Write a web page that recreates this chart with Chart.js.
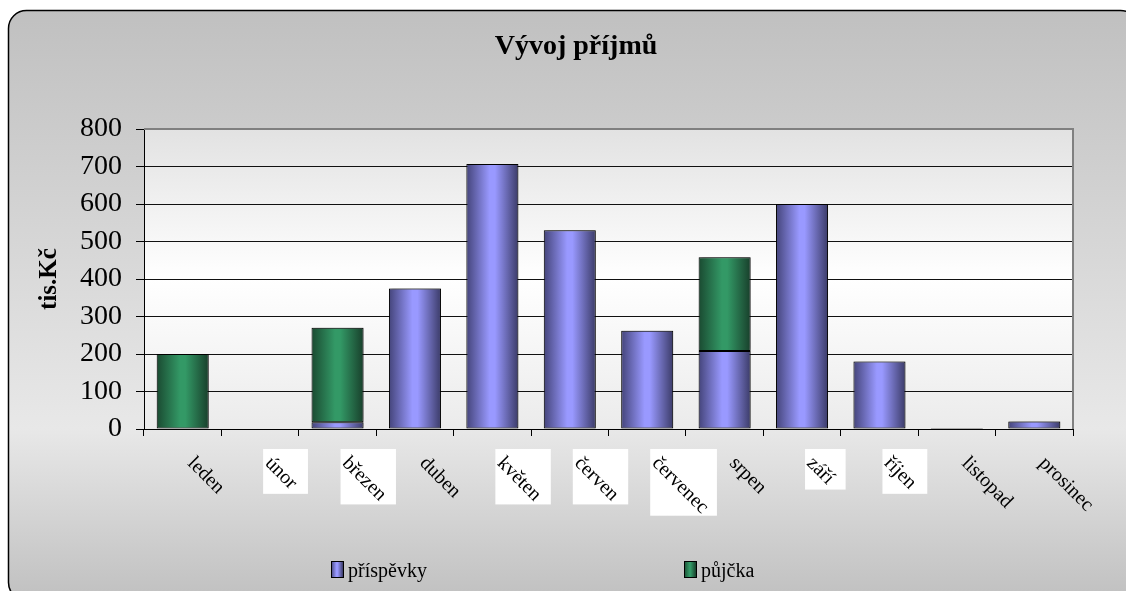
<!DOCTYPE html>
<html>
<head>
<meta charset="utf-8">
<script src="https://cdn.jsdelivr.net/npm/chart.js@4.4.0/dist/chart.umd.min.js"></script>
<style>
  body { margin: 0; background: #fff; }
  canvas { display: block; }
</style>
</head>
<body>
<canvas id="incomeChart" width="1126" height="591"></canvas>
<script>
// data (tis. Kč)
const months = ["leden", "únor", "březen", "duben", "květen", "červen",
  "červenec", "srpen", "září", "říjen", "listopad", "prosinec"];
const prispevky = [null, null, 18, 375, 707, 530, 262, 208, 600, 180, 3, 20];
const pujcka = [200, null, 252, null, null, null, null, 250, null, null, null, null];
const yTicks = [0, 100, 200, 300, 400, 500, 600, 700, 800];
const chartTitle = "Vývoj příjmů";

// labels that sit on a white patch in the original
const boxedLabels = [false, true, true, false, true, true, true, false, true, true, false, false];

const serif = '"Liberation Serif", "Times New Roman", serif';
const BAR_PCT = 0.672;

const blueStops = [[0, "#44447a"], [0.45, "#9999ff"], [0.55, "#9999ff"], [1, "#3b3b68"]];
const greenStops = [[0, "#1a4a31"], [0.45, "#339966"], [0.55, "#339966"], [1, "#183f2b"]];

function barGradient(stops) {
  return function (c) {
    const chart = c.chart;
    const xs = chart.scales.x;
    if (!xs || !chart.chartArea || c.type !== "data") return stops[1][1];
    const cx = xs.getPixelForValue(c.dataIndex);
    const half = (xs.width / months.length) * BAR_PCT / 2;
    const g = chart.ctx.createLinearGradient(cx - half, 0, cx + half, 0);
    stops.forEach(s => g.addColorStop(s[0], s[1]));
    return g;
  };
}

function legendGradient(ctx, x, w, stops) {
  const g = ctx.createLinearGradient(x, 0, x + w, 0);
  stops.forEach(s => g.addColorStop(s[0], s[1]));
  return g;
}

// outer rounded panel, plot background, labels, legend
const panelPlugin = {
  id: "panel",
  beforeDraw(chart) {
    const { ctx, chartArea: a } = chart;
    ctx.save();
    const g = ctx.createLinearGradient(0, 10, 0, 591);
    g.addColorStop(0, "#c0c0c0");
    g.addColorStop(0.2, "#cbcbcb");
    g.addColorStop(0.72, "#e8e8e8");
    g.addColorStop(1, "#c2c2c2");
    ctx.beginPath();
    ctx.roundRect(8.5, 10.5, 1130, 590, 18);
    ctx.fillStyle = g;
    ctx.fill();
    ctx.lineWidth = 1.5;
    ctx.strokeStyle = "#000";
    ctx.stroke();

    const pg = ctx.createLinearGradient(0, a.top, 0, a.bottom);
    pg.addColorStop(0, "#e2e2e2");
    pg.addColorStop(0.5, "#ffffff");
    pg.addColorStop(1, "#ebebeb");
    ctx.fillStyle = pg;
    ctx.fillRect(a.left, a.top, a.right - a.left, a.bottom - a.top);

    ctx.fillStyle = "#000";
    ctx.font = "bold 28px " + serif;
    ctx.textAlign = "center";
    ctx.textBaseline = "middle";
    ctx.fillText(chartTitle, 576, 47);
    ctx.restore();
  },
  beforeDatasetsDraw(chart) {
    const ctx = chart.ctx;
    ctx.save();
    ctx.shadowColor = "rgba(0,0,0,0.35)";
    ctx.shadowBlur = 3;
    ctx.shadowOffsetX = 1;
    ctx.shadowOffsetY = -1;
  },
  afterDatasetsDraw(chart) {
    chart.ctx.restore();
  },
  afterDraw(chart) {
    const { ctx, chartArea: a, scales: { x } } = chart;
    ctx.save();
    // gray frame on top and right
    ctx.strokeStyle = "#808080";
    ctx.lineWidth = 2;
    ctx.beginPath();
    ctx.moveTo(a.left, a.top);
    ctx.lineTo(a.right, a.top);
    ctx.lineTo(a.right, a.bottom);
    ctx.stroke();

    // rotated month labels
    ctx.font = "20px " + serif;
    months.forEach((m, i) => {
      const cx = x.getPixelForValue(i);
      if (boxedLabels[i]) {
        const w18 = m.length; // size of white patch follows the label length
        ctx.font = "18px " + serif;
        const s = 0.707 * ctx.measureText(m).width + 21.5;
        ctx.font = "20px " + serif;
        ctx.fillStyle = "#fff";
        ctx.fillRect(cx + 3, a.bottom + 20, s, s);
      }
      ctx.save();
      ctx.translate(cx + 4, a.bottom + 35);
      ctx.rotate(Math.PI / 4);
      ctx.fillStyle = "#000";
      ctx.textAlign = "left";
      ctx.textBaseline = "alphabetic";
      ctx.fillText(m, 0, 0);
      ctx.restore();
    });

    // legend
    const items = [
      { text: chart.data.datasets[0].label, stops: blueStops, x: 331 },
      { text: chart.data.datasets[1].label, stops: greenStops, x: 684 },
    ];
    ctx.font = "20px " + serif;
    ctx.textBaseline = "alphabetic";
    ctx.textAlign = "left";
    items.forEach(it => {
      ctx.fillStyle = legendGradient(ctx, it.x, 12, it.stops);
      ctx.fillRect(it.x, 561, 12, 16);
      ctx.strokeStyle = "#000";
      ctx.lineWidth = 1;
      ctx.strokeRect(it.x + 0.5, 561.5, 12, 16);
      ctx.fillStyle = "#000";
      ctx.fillText(it.text, it.x + 17, 577);
    });
    ctx.restore();
  },
};

new Chart(document.getElementById("incomeChart"), {
  type: "bar",
  data: {
    labels: months,
    datasets: [
      {
        label: "příspěvky",
        data: prispevky,
        backgroundColor: barGradient(blueStops),
        borderColor: "#000",
        borderWidth: 1,
        borderSkipped: false,
        categoryPercentage: 1,
        barPercentage: BAR_PCT,
      },
      {
        label: "půjčka",
        data: pujcka,
        backgroundColor: barGradient(greenStops),
        borderColor: "#000",
        borderWidth: 1,
        borderSkipped: false,
        categoryPercentage: 1,
        barPercentage: BAR_PCT,
      },
    ],
  },
  options: {
    responsive: false,
    animation: false,
    layout: { padding: { left: 10, right: 53, top: 129, bottom: 0 } },
    plugins: {
      legend: { display: false },
      tooltip: { enabled: false },
      title: { display: false },
    },
    scales: {
      x: {
        stacked: true,
        ticks: { display: false },
        grid: {
          display: true,
          drawOnChartArea: false,
          offset: true,
          tickLength: 7,
          tickColor: "#000",
        },
        border: { color: "#000", width: 1 },
        afterFit(s) { s.height = 162; },
      },
      y: {
        stacked: true,
        min: 0,
        max: 800,
        afterBuildTicks(s) { s.ticks = yTicks.map(v => ({ value: v })); },
        ticks: {
          color: "#000",
          font: { family: serif, size: 28 },
          padding: 14,
        },
        grid: {
          color: "#111",
          lineWidth: 1,
          tickLength: 8,
          tickColor: "#000",
        },
        border: { color: "#000", width: 1 },
        title: {
          display: true,
          text: "tis.Kč",
          color: "#000",
          font: { family: serif, size: 25, weight: "bold" },
          padding: { top: 25, bottom: 0 },
        },
        afterFit(s) { s.width = 134; },
      },
    },
  },
  plugins: [panelPlugin],
});
</script>
</body>
</html>
